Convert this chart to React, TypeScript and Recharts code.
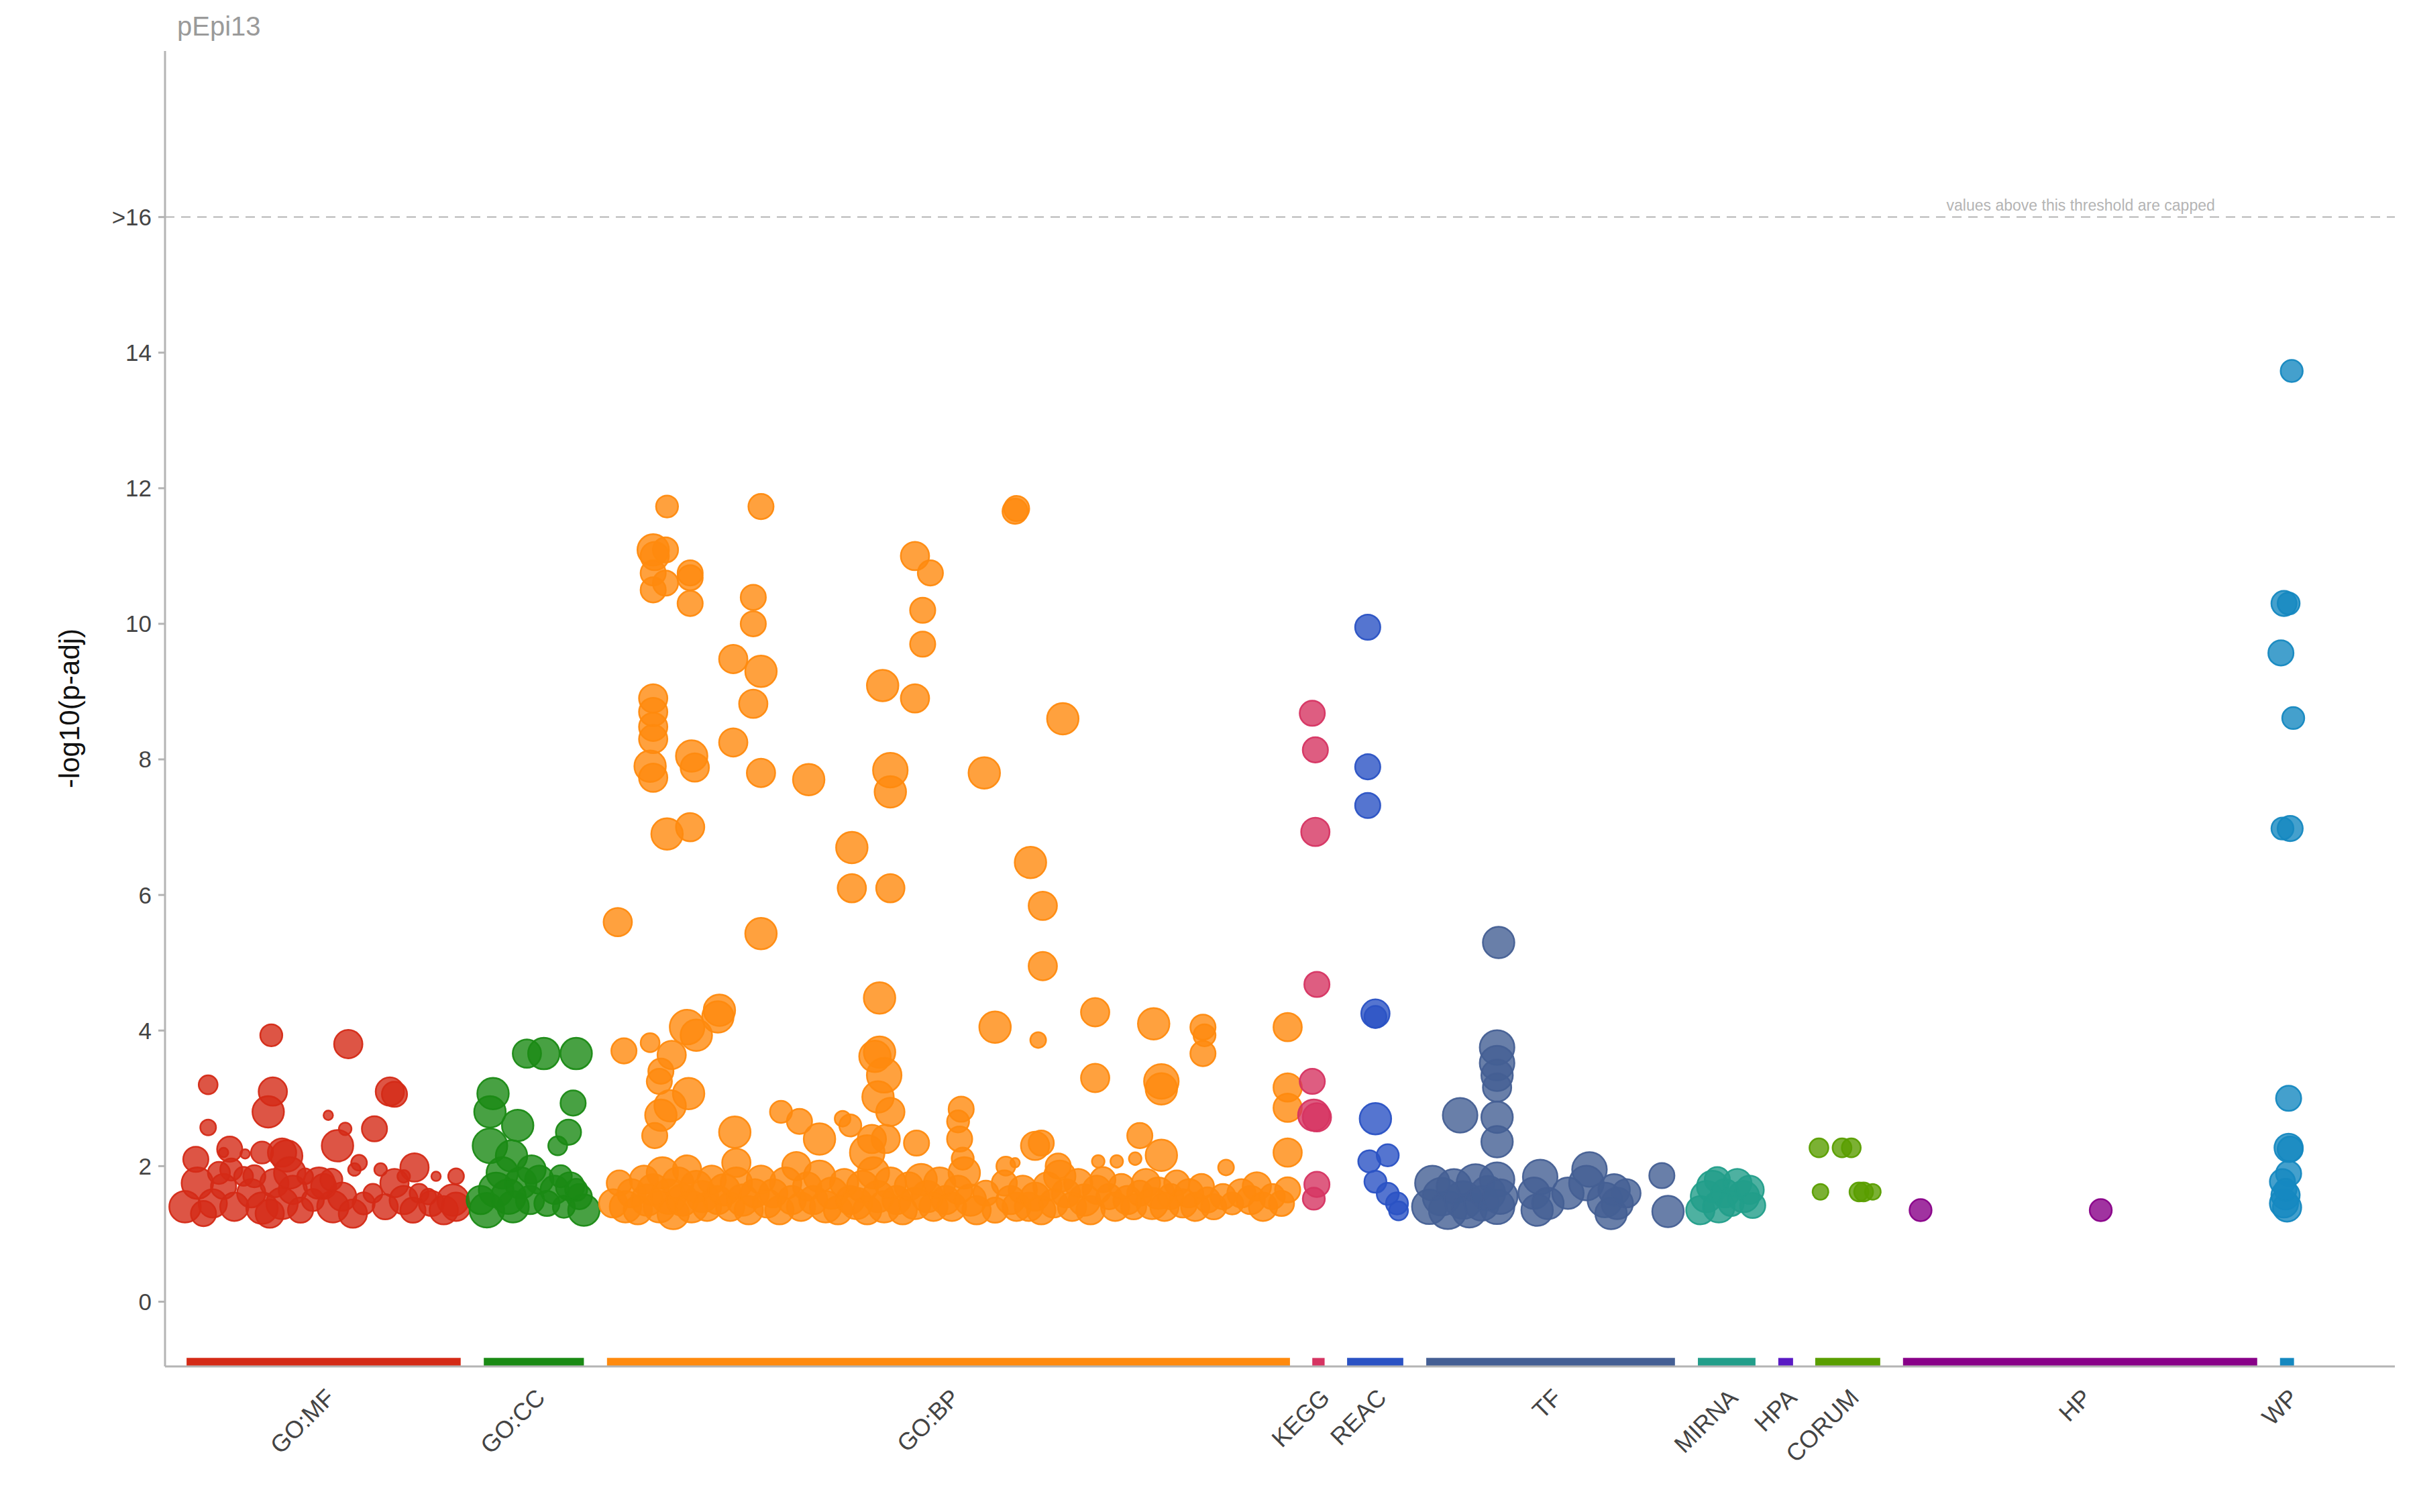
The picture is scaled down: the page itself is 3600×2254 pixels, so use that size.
import {
  ReferenceArea,
  ReferenceDot,
  ReferenceLine,
  Scatter,
  ScatterChart,
  XAxis,
  YAxis
} from "recharts";

// sources along the x axis (positions in axis units)
const sourceNames = ["GO:MF", "GO:CC", "GO:BP", "KEGG", "REAC", "TF", "MIRNA", "HPA", "CORUM", "HP", "WP"];
const sourceStart = [121, 314, 394, 852, 874.6, 926, 1102.4, 1154.6, 1178.6, 1235.6, 1480.4];
const sourceEnd = [299, 379, 837.5, 860, 911.1, 1087.5, 1139.8, 1164.2, 1220.8, 1465.6, 1489.5];
const sourceColors = [
  "#d42a16",
  "#1a8a14",
  "#ff8a0e",
  "#d63462",
  "#2a52c4",
  "#445f94",
  "#229e8a",
  "#5a1ac4",
  "#5a9e00",
  "#880088",
  "#1588c0"
];

const yTicks = [0, 2, 4, 6, 8, 10, 12, 14, 16];
const yCap = 16;

// [position, -log10(p-adj), term size]
const goMf: number[][] = [
  [176, 3.93, 490], [226, 3.8, 810], [135, 3.2, 360], [177, 3.1, 810], [253, 3.1, 810], [256, 3.06, 640],
  [174, 2.8, 1000], [213, 2.75, 90], [135, 2.57, 250], [224, 2.55, 160], [243, 2.55, 640], [219, 2.3, 1000],
  [149, 2.25, 640], [170, 2.2, 490], [186, 2.15, 1000], [127, 2.1, 640], [233, 2.05, 250], [269, 1.98, 810],
  [296, 1.85, 250], [145, 2.2, 90], [159, 2.18, 90], [183, 2.2, 810], [247, 1.95, 160], [262, 1.85, 160],
  [283, 1.85, 90], [150, 1.95, 490],
  [120, 1.4, 1000], [128, 1.75, 1000], [138, 1.45, 810], [145, 1.7, 640], [152, 1.4, 810], [158, 1.85, 360],
  [163, 1.6, 810], [170, 1.38, 1000], [178, 1.75, 810], [183, 1.45, 1000], [190, 1.65, 810], [195, 1.35, 640],
  [203, 1.5, 490], [210, 1.7, 640], [216, 1.4, 1000], [222, 1.55, 810], [229, 1.3, 810], [236, 1.45, 490],
  [242, 1.6, 360], [250, 1.4, 640], [256, 1.75, 810], [262, 1.5, 810], [268, 1.35, 640], [272, 1.6, 360],
  [280, 1.45, 640], [288, 1.35, 810], [294, 1.5, 1000], [296, 1.4, 810], [132, 1.3, 640], [175, 1.3, 810],
  [207, 1.75, 1000], [215, 1.8, 490], [188, 1.9, 1000], [142, 1.9, 490], [165, 1.85, 490], [230, 1.95, 160],
  [198, 1.85, 250], [278, 1.55, 250]
];

const goCc: number[][] = [
  [320, 3.07, 1000], [342, 3.66, 810], [353, 3.66, 1000], [374, 3.66, 1000], [372, 2.93, 640], [318, 2.8, 1000],
  [336, 2.6, 1000], [369, 2.5, 640], [318, 2.3, 1210], [362, 2.3, 360], [332, 2.15, 1000], [316, 1.35, 1210],
  [322, 1.65, 1210], [326, 1.9, 1000], [333, 1.4, 1000], [338, 1.75, 1000], [344, 1.5, 810], [350, 1.8, 810],
  [355, 1.45, 640], [360, 1.65, 810], [366, 1.4, 490], [370, 1.7, 810], [376, 1.55, 640], [379, 1.35, 1000],
  [312, 1.5, 810], [330, 1.55, 1210], [345, 1.95, 810], [364, 1.85, 490], [374, 1.65, 490]
];

const goBp: number[][] = [
  [433, 11.73, 490], [494, 11.73, 640], [660, 11.7, 640], [659, 11.66, 640], [424, 11.09, 1000], [432, 11.09, 640],
  [425, 11.0, 810], [594, 11.0, 810], [424, 10.75, 640], [448, 10.75, 640], [448, 10.68, 640], [432, 10.6, 640],
  [604, 10.75, 640], [424, 10.5, 640], [448, 10.3, 640], [489, 10.39, 640], [599, 10.2, 640], [489, 10.0, 640],
  [599, 9.7, 640], [476, 9.48, 810], [494, 9.3, 1000], [573, 9.09, 1000], [424, 8.9, 810], [489, 8.82, 810],
  [594, 8.9, 810], [424, 8.7, 810], [424, 8.48, 810], [424, 8.3, 810], [690, 8.6, 1000], [476, 8.25, 810],
  [449, 8.05, 1000], [422, 7.9, 1000], [451, 7.88, 810], [578, 7.84, 1210], [494, 7.8, 810], [639, 7.8, 1000],
  [525, 7.7, 1000], [424, 7.73, 810], [578, 7.52, 1000], [448, 7.0, 810], [433, 6.9, 1000], [553, 6.7, 1000],
  [669, 6.48, 1000], [553, 6.1, 810], [578, 6.1, 810], [677, 5.84, 810], [401, 5.6, 810], [494, 5.43, 1000],
  [677, 4.95, 810], [571, 4.48, 1000], [467, 4.3, 1000], [466, 4.2, 1000], [711, 4.27, 810], [646, 4.05, 1000],
  [749, 4.1, 1000], [446, 4.05, 1210], [781, 4.05, 640], [782, 3.93, 490], [836, 4.05, 810], [452, 3.93, 1000],
  [405, 3.7, 640], [422, 3.82, 360], [674, 3.86, 250], [571, 3.68, 1000], [568, 3.62, 1000], [436, 3.64, 810],
  [781, 3.66, 640], [429, 3.4, 640], [428, 3.25, 640], [574, 3.34, 1210], [711, 3.3, 810], [754, 3.25, 1210],
  [754, 3.14, 1000], [836, 3.16, 810], [447, 3.07, 1000], [570, 3.02, 1000], [435, 2.89, 1000], [429, 2.75, 1000],
  [578, 2.8, 810], [624, 2.84, 640], [622, 2.66, 490], [507, 2.8, 490], [836, 2.86, 810], [519, 2.66, 640],
  [547, 2.7, 250], [552, 2.6, 490], [425, 2.45, 640], [477, 2.5, 1000], [740, 2.45, 640], [566, 2.4, 810],
  [575, 2.4, 810], [532, 2.4, 1000], [595, 2.34, 640], [623, 2.4, 640], [672, 2.3, 810], [676, 2.34, 640],
  [836, 2.2, 810], [754, 2.16, 1000], [563, 2.2, 1210], [653, 2.0, 360], [687, 2.0, 640], [625, 2.11, 490],
  [659, 2.05, 90], [713, 2.07, 160], [725, 2.07, 160], [796, 1.98, 250], [737, 2.11, 160],
  [398, 1.45, 810], [402, 1.75, 640], [406, 1.4, 1000], [410, 1.6, 810], [414, 1.35, 810], [418, 1.8, 810],
  [420, 1.5, 1000], [424, 1.65, 1000], [428, 1.4, 1000], [430, 1.9, 1000], [434, 1.55, 1210], [437, 1.3, 1000],
  [440, 1.75, 1000], [443, 1.5, 1000], [446, 1.95, 810], [449, 1.4, 1000], [452, 1.7, 1000], [456, 1.55, 1000],
  [459, 1.4, 810], [462, 1.8, 810], [466, 1.5, 810], [470, 1.65, 1000], [474, 1.4, 810], [478, 1.75, 1000],
  [478, 2.05, 810], [482, 1.5, 1000], [486, 1.35, 810], [490, 1.6, 810], [494, 1.8, 810], [498, 1.45, 810],
  [502, 1.6, 810], [506, 1.35, 810], [510, 1.75, 1000], [514, 1.5, 810], [517, 2.0, 810], [520, 1.4, 810],
  [524, 1.7, 810], [528, 1.5, 810], [532, 1.85, 1000], [536, 1.4, 1000], [540, 1.6, 1000], [544, 1.35, 810],
  [548, 1.75, 810], [552, 1.5, 810], [556, 1.45, 1000], [560, 1.7, 1000], [563, 1.35, 810], [567, 1.9, 1000],
  [570, 1.55, 1000], [574, 1.4, 1000], [578, 1.75, 1000], [582, 1.5, 810], [586, 1.35, 810], [590, 1.7, 810],
  [594, 1.45, 1000], [598, 1.8, 1000], [602, 1.55, 1000], [606, 1.4, 810], [610, 1.75, 1000], [614, 1.5, 810],
  [618, 1.4, 810], [622, 1.65, 810], [626, 1.9, 1000], [630, 1.5, 1000], [634, 1.35, 810], [640, 1.6, 640],
  [646, 1.35, 640], [652, 1.75, 640], [656, 1.5, 810], [660, 1.4, 810], [664, 1.65, 810], [668, 1.4, 810],
  [672, 1.55, 810], [676, 1.35, 810], [680, 1.7, 810], [684, 1.45, 810], [688, 1.85, 1000], [692, 1.6, 810],
  [696, 1.4, 810], [700, 1.75, 810], [704, 1.5, 1000], [708, 1.35, 810], [712, 1.65, 810], [716, 1.8, 640],
  [720, 1.55, 640], [724, 1.4, 810], [728, 1.7, 640], [732, 1.5, 810], [736, 1.4, 640], [740, 1.6, 640],
  [744, 1.75, 810], [748, 1.45, 1000], [752, 1.6, 1000], [756, 1.4, 810], [760, 1.55, 640], [764, 1.75, 640],
  [768, 1.45, 810], [772, 1.6, 810], [776, 1.4, 810], [780, 1.7, 640], [784, 1.5, 640], [788, 1.4, 640],
  [794, 1.55, 640], [800, 1.45, 490], [806, 1.6, 810], [812, 1.5, 810], [816, 1.7, 810], [820, 1.4, 810],
  [826, 1.55, 640], [832, 1.45, 640], [836, 1.65, 640]
];

const kegg: number[][] = [
  [852, 8.68, 640], [854, 8.14, 640], [854, 6.93, 810], [855, 4.68, 640], [852, 3.25, 640], [853, 2.75, 1000],
  [855, 2.72, 810], [855, 1.73, 640], [853, 1.52, 490]
];

const reac: number[][] = [
  [888, 9.95, 640], [888, 7.89, 640], [888, 7.32, 640], [893, 4.25, 810], [893, 4.2, 490], [893, 2.7, 1000],
  [901, 2.16, 490], [889, 2.07, 490], [893, 1.77, 490], [901, 1.59, 490], [907, 1.45, 490], [908, 1.34, 360]
];

const tf: number[][] = [
  [973, 5.3, 1000], [972, 3.75, 1210], [972, 3.52, 1210], [972, 3.34, 1000], [972, 3.16, 810], [948, 2.75, 1210],
  [972, 2.72, 1000], [972, 2.36, 1000], [1000, 1.84, 1210], [1032, 1.95, 1210], [1079, 1.86, 640],
  [928, 1.4, 1210], [930, 1.75, 1210], [936, 1.55, 1440], [940, 1.35, 1440], [944, 1.7, 1210], [950, 1.5, 1440],
  [954, 1.35, 1210], [958, 1.75, 1440], [962, 1.45, 1210], [966, 1.6, 1210], [972, 1.8, 1210], [972, 1.4, 1210],
  [974, 1.55, 1210], [996, 1.6, 1000], [998, 1.35, 1000], [1005, 1.45, 1000], [1018, 1.6, 1000], [1030, 1.75, 1210],
  [1042, 1.5, 1210], [1046, 1.3, 1000], [1048, 1.65, 1000], [1050, 1.45, 1000], [1056, 1.6, 810], [1083, 1.33, 1000]
];

const mirna: number[][] = [
  [1104, 1.35, 810], [1108, 1.55, 1000], [1112, 1.7, 1000], [1116, 1.4, 1000], [1120, 1.6, 810], [1124, 1.45, 640],
  [1128, 1.75, 810], [1132, 1.55, 1000], [1136, 1.65, 810], [1138, 1.42, 640], [1115, 1.8, 640]
];

const hpa: number[][] = [];

const corum: number[][] = [
  [1181, 2.27, 360], [1196, 2.27, 360], [1202, 2.27, 360], [1182, 1.62, 250], [1207, 1.62, 360], [1210, 1.62, 360],
  [1216, 1.62, 250]
];

const hp: number[][] = [[1247, 1.35, 490], [1364, 1.35, 490]];

const wp: number[][] = [
  [1488, 13.73, 490], [1483, 10.3, 640], [1486, 10.3, 490], [1481, 9.57, 640], [1489, 8.61, 490], [1482, 6.98, 490],
  [1487, 6.98, 640], [1486, 3.0, 640], [1486, 2.27, 810], [1487, 2.25, 640], [1486, 1.89, 640], [1482, 1.77, 640],
  [1484, 1.57, 810], [1483, 1.45, 810], [1485, 1.39, 810], [1484, 1.65, 490]
];

const sourcePoints = [goMf, goCc, goBp, kegg, reac, tf, mirna, hpa, corum, hp, wp];

const X_DOMAIN: [number, number] = [107, 1555];
const Y_DOMAIN: [number, number] = [-0.955, 18.45];
const FONT = "'Liberation Sans', Arial, sans-serif";

const sourceCenters = sourceStart.map((s, i) => (s + sourceEnd[i]) / 2);

const toRows = (rows: number[][]) => rows.map(([x, y, t]) => ({ x, y, t }));

const Bubble = (props: any) => {
  const { cx, cy, payload, color } = props;
  if (cx == null || cy == null) return null;
  const r = Math.sqrt(payload.t / 10) * 2.35;
  return (
    <circle cx={cx} cy={cy} r={r} fill={color} fillOpacity={0.8} stroke={color} strokeOpacity={0.95} strokeWidth={2.5} />
  );
};

const SourceTick = (props: any) => {
  const { x, y, payload } = props;
  const i = sourceCenters.indexOf(payload.value);
  const tx = x + 10;
  const ty = y + 32;
  return (
    <text
      x={tx}
      y={ty}
      dy="0.35em"
      textAnchor="end"
      transform={`rotate(-45 ${tx} ${ty})`}
      fontSize={36}
      fontFamily={FONT}
      fill="#444"
    >
      {sourceNames[i]}
    </text>
  );
};

export default function App() {
  return (
    <div style={{ position: "absolute", left: 0, top: 0, width: 3600, height: 2254, background: "#fff" }}>
      <ScatterChart width={3600} height={2254} margin={{ top: 76, right: 30, bottom: 0, left: 0 }}>
        <XAxis
          type="number"
          dataKey="x"
          domain={X_DOMAIN}
          allowDataOverflow
          ticks={sourceCenters}
          interval={0}
          tick={<SourceTick />}
          tickLine={false}
          axisLine={{ stroke: "#b4b4b4", strokeWidth: 3 }}
          height={217}
        />
        <YAxis
          type="number"
          dataKey="y"
          domain={Y_DOMAIN}
          allowDataOverflow
          ticks={yTicks}
          interval={0}
          tickFormatter={(v: number) => (v === yCap ? ">16" : String(v))}
          tick={{ fontSize: 35, fill: "#444", fontFamily: FONT }}
          tickLine={{ stroke: "#b4b4b4", strokeWidth: 3 }}
          tickSize={10}
          tickMargin={10}
          axisLine={{ stroke: "#b4b4b4", strokeWidth: 3 }}
          width={246}
        />
        <ReferenceLine y={yCap} stroke="#b4b4b4" strokeWidth={2} strokeDasharray="14 10" />
        <ReferenceDot
          x={1351}
          y={yCap}
          r={0}
          fill="none"
          stroke="none"
          label={{
            value: "values above this threshold are capped",
            position: "top",
            offset: 10,
            fontSize: 23,
            fill: "#b4b4b4",
            fontFamily: FONT
          }}
        />
        {sourceNames.map((name, i) => (
          <ReferenceArea
            key={`bar-${name}`}
            x1={sourceStart[i]}
            x2={sourceEnd[i]}
            y1={Y_DOMAIN[0]}
            y2={Y_DOMAIN[0] + 0.125}
            fill={sourceColors[i]}
            fillOpacity={1}
            stroke="none"
          />
        ))}
        {sourceNames.map((name, i) => (
          <Scatter
            key={name}
            name={name}
            data={toRows(sourcePoints[i])}
            fill={sourceColors[i]}
            isAnimationActive={false}
            shape={(p: any) => <Bubble {...p} color={sourceColors[i]} />}
          />
        ))}
      </ScatterChart>
      <svg
        width={3600}
        height={2254}
        style={{ position: "absolute", left: 0, top: 0, pointerEvents: "none" }}
      >
        <text x={264} y={53} fontSize={40} fontFamily={FONT} fill="#9a9a9a">
          pEpi13
        </text>
        <text
          x={103}
          y={1056}
          fontSize={42}
          fontFamily={FONT}
          fill="#111"
          textAnchor="middle"
          dominantBaseline="central"
          transform="rotate(-90 103 1056)"
        >
          -log10(p-adj)
        </text>
      </svg>
    </div>
  );
}
